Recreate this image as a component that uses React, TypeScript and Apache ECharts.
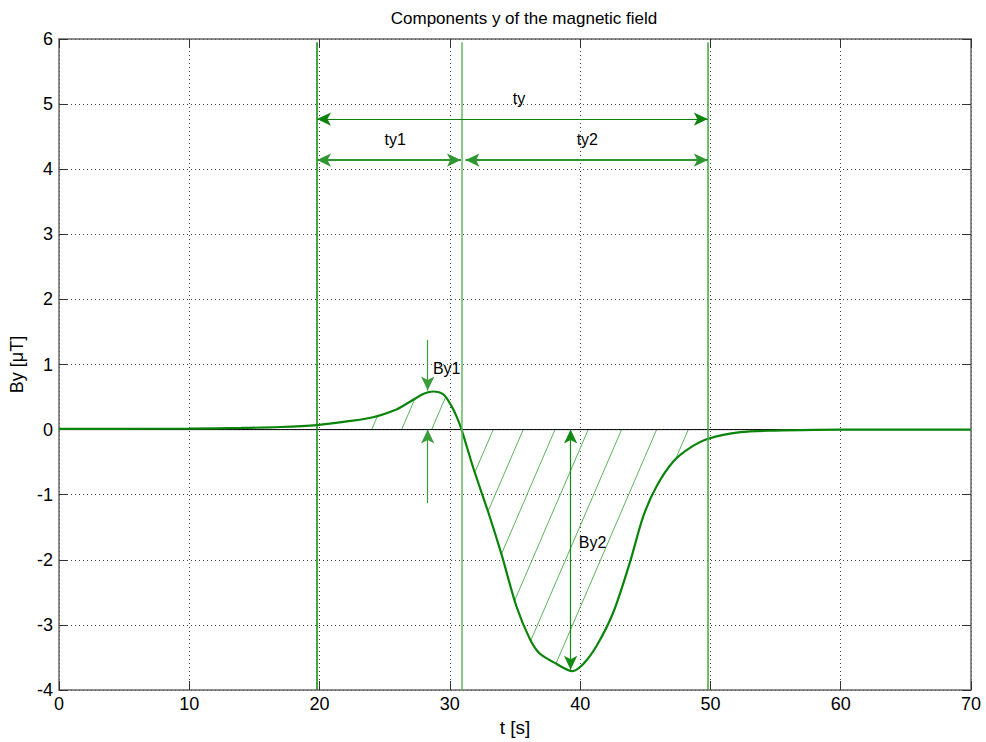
import React, { useEffect, useRef } from "react";
import * as echarts from "echarts";

// ---- data ----
const tValues = [0, 5, 10, 14, 17, 19.8, 22.1, 24.1, 25.9, 26.7, 27.45, 28.0, 28.7, 29.5, 30.13, 30.52, 30.9, 31.8, 33.0, 34.0, 35.1, 36.15, 36.9, 38.2, 39.4, 40.24, 41.27, 42.54, 43.82, 44.85, 45.87, 47.15, 48.43, 49.83, 52.3, 55, 58, 62, 70];
const byValues = [0.01, 0.012, 0.015, 0.025, 0.04, 0.07, 0.125, 0.19, 0.31, 0.4, 0.49, 0.55, 0.585, 0.54, 0.36, 0.2, 0, -0.59, -1.3, -1.94, -2.71, -3.22, -3.44, -3.6, -3.71, -3.6, -3.32, -2.81, -2.04, -1.33, -0.87, -0.49, -0.28, -0.14, -0.04, -0.015, -0.005, 0, 0];

const markerTimes = [19.8, 30.9, 49.8];
const markerColors = ["#0a860a", "#62bb62", "#3fa83f"];
const markerTop = 5.95;

const hatchAnchors = [24.0, 26.3, 28.6, 33.33, 35.63, 38.07, 40.62, 43.18, 45.87, 48.3];
const hatchSlope = 2.15; // t per unit of By along the hatch lines

// arrows: [t1, y1, t2, y2]
const tyArrow = [19.8, 4.77, 49.8, 4.77];
const ty1Arrow = [19.8, 4.14, 30.85, 4.14];
const ty2Arrow = [31.2, 4.14, 49.8, 4.14];
const by1TopArrow = [28.3, 1.38, 28.3, 0.6];
const by1BottomArrow = [28.3, -1.13, 28.3, 0.0];
const by2Arrow = [39.27, 0.0, 39.27, -3.69];

const labelTexts = ["ty", "ty1", "ty2", "By1", "By2"];
const labelT = [35.3, 25.8, 40.55, 28.7, 39.9];
const labelY = [5.08, 4.45, 4.45, 0.94, -1.73];
const labelAlign = ["center", "center", "center", "left", "left"];

const xTicks = { min: 0, max: 70, interval: 10 };
const yTicks = { min: -4, max: 6, interval: 1 };

function interp(t: number): number {
  if (t <= tValues[0]) return byValues[0];
  for (let i = 1; i < tValues.length; i++) {
    if (t <= tValues[i]) {
      const f = (t - tValues[i - 1]) / (tValues[i] - tValues[i - 1]);
      return byValues[i - 1] + f * (byValues[i] - byValues[i - 1]);
    }
  }
  return byValues[byValues.length - 1];
}

function hatchSegment(tz: number): number[] {
  const b0 = interp(tz);
  const dir = b0 >= 0 ? 1 : -1;
  for (let s = 0.005; s < 20; s += 0.005) {
    const t = tz + dir * s;
    const lineY = (t - tz) / hatchSlope;
    const f = interp(t) - lineY;
    if ((dir > 0 && f <= 0) || (dir < 0 && f >= 0)) {
      return [tz, 0, t, lineY];
    }
  }
  return [tz, 0, tz, 0];
}

const FONT = "Liberation Sans, Arial, Helvetica, sans-serif";

export default function App() {
  const ref = useRef<HTMLDivElement>(null);
  useEffect(() => {
    if (!ref.current) return;
    const chart = echarts.init(ref.current, null, { renderer: "svg" });
    const curve = tValues.map((t, i) => [t, byValues[i]]);
    const hatch = hatchAnchors.map(hatchSegment);
    const arrowLine = (a: number[], color: string, width: number, heads: [string, string]) => [
      { coord: [a[0], a[1]], symbol: heads[0], lineStyle: { color, width, type: "solid" }, itemStyle: { color } },
      { coord: [a[2], a[3]], symbol: heads[1], lineStyle: { color, width, type: "solid" }, itemStyle: { color } },
    ];
    const vLines = markerTimes.map((t, i) => [
      { coord: [t, yTicks.min], symbol: "none", lineStyle: { color: markerColors[i], width: 1.5, type: "solid" } },
      { coord: [t, markerTop], symbol: "none", lineStyle: { color: markerColors[i], width: 1.5, type: "solid" } },
    ]);
    const labels = labelTexts.map((_, i) => [labelT[i], labelY[i], i]);
    const sideAxis = {
      axisLine: { show: true, onZero: false, lineStyle: { color: "#666", width: 1.5 } },
      axisTick: { show: true, inside: true, length: 9, lineStyle: { color: "#333" } },
    };

    chart.setOption({
      animation: false,
      backgroundColor: "#fff",
      title: {
        text: "Components y of the magnetic field",
        left: 519,
        top: 5,
        textAlign: "center",
        textStyle: { fontFamily: FONT, fontSize: 17, fontWeight: "normal", color: "#000" },
      },
      grid: { left: 59, right: 15, top: 39, bottom: 52, containLabel: false },
      xAxis: [
        {
          type: "value",
          min: xTicks.min,
          max: xTicks.max,
          interval: xTicks.interval,
          name: "t [s]",
          nameLocation: "middle",
          nameGap: 21,
          nameTextStyle: { fontFamily: FONT, fontSize: 19, color: "#000" },
          ...sideAxis,
          axisLabel: { fontFamily: FONT, fontSize: 18, color: "#000", margin: 5 },
          splitLine: { show: true, lineStyle: { color: "#444", type: [1, 3], width: 1 } },
        },
        {
          type: "value",
          position: "top",
          min: xTicks.min,
          max: xTicks.max,
          interval: xTicks.interval,
          ...sideAxis,
          axisLabel: { show: false },
          splitLine: { show: false },
        },
      ],
      yAxis: [
        {
          type: "value",
          min: yTicks.min,
          max: yTicks.max,
          interval: yTicks.interval,
          name: "By [\u03bcT]",
          nameLocation: "middle",
          nameGap: 31,
          nameTextStyle: { fontFamily: FONT, fontSize: 18, color: "#000" },
          ...sideAxis,
          axisLabel: { fontFamily: FONT, fontSize: 18, color: "#000", margin: 6 },
          splitLine: { show: true, lineStyle: { color: "#444", type: [1, 3], width: 1 } },
        },
        {
          type: "value",
          position: "right",
          min: yTicks.min,
          max: yTicks.max,
          interval: yTicks.interval,
          ...sideAxis,
          axisLabel: { show: false },
          splitLine: { show: false },
        },
      ],
      series: [
        {
          type: "custom",
          name: "hatch",
          silent: true,
          encode: { x: [0, 2], y: [1, 3] },
          data: hatch,
          renderItem: (params: any, api: any) => {
            const p0 = api.coord([api.value(0), api.value(1)]);
            const p1 = api.coord([api.value(2), api.value(3)]);
            return {
              type: "line",
              shape: { x1: p0[0], y1: p0[1], x2: p1[0], y2: p1[1] },
              style: { stroke: "#5cb45c", lineWidth: 1 },
            };
          },
          z: 1,
        },
        {
          type: "line",
          name: "zero",
          silent: true,
          data: [[xTicks.min, 0], [xTicks.max, 0]],
          symbol: "none",
          lineStyle: { color: "#000", width: 1 },
          z: 2,
          markLine: {
            silent: true,
            animation: false,
            label: { show: false },
            emphasis: { disabled: true },
            data: vLines,
          },
        },
        {
          type: "line",
          name: "By",
          data: curve,
          smooth: 0.3,
          symbol: "none",
          lineStyle: { color: "#0a840a", width: 2.2 },
          z: 3,
        },
        {
          type: "line",
          name: "arrows",
          data: [],
          symbol: "none",
          z: 4,
          markLine: {
            silent: true,
            animation: false,
            symbolSize: [10, 14],
            label: { show: false },
            emphasis: { disabled: true },
            data: [
              arrowLine(tyArrow, "#0b820b", 1.2, ["arrow", "arrow"]),
              arrowLine(ty1Arrow, "#2e962e", 2, ["arrow", "arrow"]),
              arrowLine(ty2Arrow, "#2e962e", 2, ["arrow", "arrow"]),
              arrowLine(by1TopArrow, "#3a9c3a", 1.2, ["none", "arrow"]),
              arrowLine(by1BottomArrow, "#3a9c3a", 1.2, ["none", "arrow"]),
              arrowLine(by2Arrow, "#138a13", 1.2, ["arrow", "arrow"]),
            ],
          },
        },
        {
          type: "custom",
          name: "labels",
          silent: true,
          encode: { x: 0, y: 1 },
          data: labels,
          renderItem: (params: any, api: any) => {
            const p = api.coord([api.value(0), api.value(1)]);
            const i = api.value(2);
            return {
              type: "text",
              x: p[0],
              y: p[1],
              style: {
                text: labelTexts[i],
                fill: "#000",
                font: `16px ${FONT}`,
                align: labelAlign[i],
                verticalAlign: "middle",
              },
            };
          },
          z: 5,
        },
      ],
    });
    return () => chart.dispose();
  }, []);
  return (
    <div
      ref={ref}
      style={{ position: "fixed", left: 0, top: 0, width: 986, height: 742, background: "#fff" }}
    />
  );
}
